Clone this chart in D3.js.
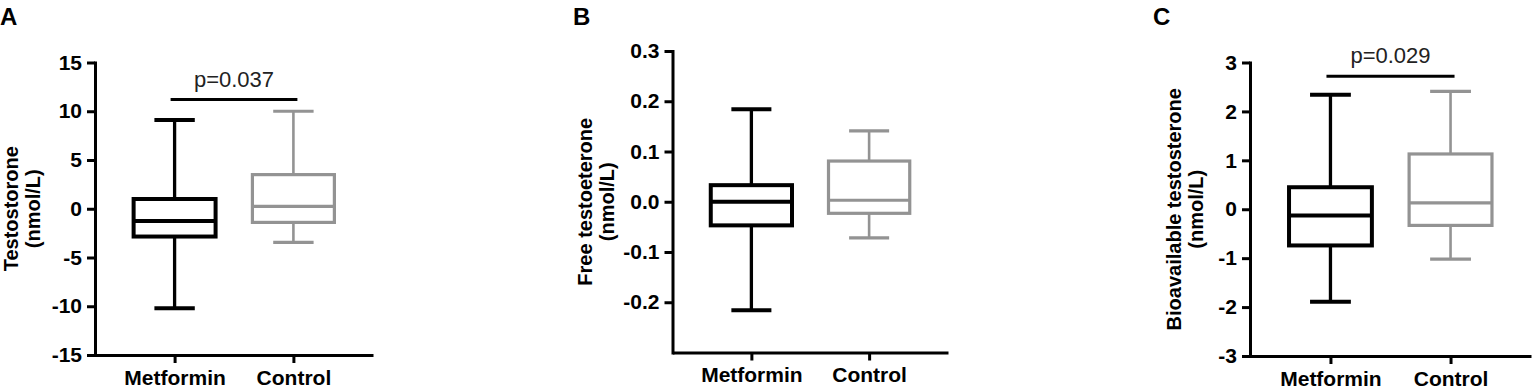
<!DOCTYPE html>
<html>
<head>
<meta charset="utf-8">
<script src="https://cdnjs.cloudflare.com/ajax/libs/d3/7.8.5/d3.min.js"></script>
<style>
  body { margin: 0; background: #fff; }
  text { font-family: "Liberation Sans", Arial, sans-serif; }
</style>
</head>
<body>
<script>
// groups on the x axis
var groups = ["Metformin", "Control"];
var panelLetters = ["A", "B", "C"];
var yTitles = [
    ["Testostorone", "(nmol/L)"],
    ["Free testoeterone", "(nmol/L)"],
    ["Bioavailable testosterone", "(nmol/L)"]
];

// box summaries per group: [min, q1, median, q3, max]
var testosteroneStats = [[-10.2, -2.85, -1.25, 1.0, 9.1], [-3.45, -1.4, 0.25, 3.5, 10.0]];
var freeTStats = [[-0.216, -0.047, 0.0, 0.033, 0.184], [-0.072, -0.023, 0.003, 0.081, 0.141]];
var bioTStats = [[-1.89, -0.74, -0.13, 0.45, 2.34], [-1.02, -0.33, 0.13, 1.13, 2.41]];

// y domains and tick labels
var testosteroneDomain = [-15, 15];
var testosteroneTicks = [-15, -10, -5, 0, 5, 10, 15];
var freeTDomain = [-0.3, 0.3];
var freeTTicks = [-0.2, -0.1, 0.0, 0.1, 0.2, 0.3];
var bioTDomain = [-3, 3];
var bioTTicks = [-3, -2, -1, 0, 1, 2, 3];

// significance brackets
var pLabels = ["p=0.037", null, "p=0.029"];
var pLevels = [11.2, null, 2.72];

var w = 1535, h = 390;
var svg = d3.select("body").append("svg")
    .attr("width", w)
    .attr("height", h);

var gray = "#939393";
var colors = ["#000", gray];

// pixel layout of each panel
var panels = [
    {stats: testosteroneStats, domain: testosteroneDomain, ticks: testosteroneTicks, fmt: function(d){ return String(d); },
     left: 95, right: 373, top: 62.5, bottom: 355, letterX: 0, titleX: [18, 40]},
    {stats: freeTStats, domain: freeTDomain, ticks: freeTTicks, fmt: function(d){ return d.toFixed(1); },
     left: 672.5, right: 948, top: 51, bottom: 352.5, letterX: 573, titleX: [592, 614]},
    {stats: bioTStats, domain: bioTDomain, ticks: bioTTicks, fmt: function(d){ return String(d); },
     left: 1250, right: 1531, top: 62.5, bottom: 356, letterX: 1153, titleX: [1181, 1203]}
];

panels.forEach(function(p, k){
    var g = svg.append("g");

    var yScale = d3.scaleLinear()
        .domain(p.domain)
        .range([p.bottom, p.top]);

    var xScale = d3.scalePoint()
        .domain(groups)
        .range([p.left, p.right])
        .padding(0.67);

    var step = xScale.step();
    var boxW = step * 0.69;
    var capW = step * 0.34;

    var yAxis = d3.axisLeft(yScale)
        .tickValues(p.ticks)
        .tickFormat(p.fmt)
        .tickSize(8)
        .tickSizeOuter(0)
        .tickPadding(5);

    var xAxis = d3.axisBottom(xScale)
        .tickSize(8)
        .tickSizeOuter(0)
        .tickPadding(7);

    var ya = g.append("g")
        .attr("transform", "translate(" + p.left + ",0)")
        .call(yAxis);

    var xa = g.append("g")
        .attr("transform", "translate(0," + p.bottom + ")")
        .call(xAxis);

    [ya, xa].forEach(function(a){
        a.selectAll("path, line").attr("stroke", "#000").attr("stroke-width", 3);
        a.selectAll("text")
            .attr("fill", "#000")
            .style("font-size", "21px")
            .style("font-weight", "bold");
    });
    ya.select(".domain").attr("stroke-linecap", "square");
    xa.selectAll("text").attr("dy", "0.71em");

    // boxes
    var boxes = g.selectAll("g.box")
        .data(p.stats)
        .enter()
        .append("g")
        .attr("class", "box");

    boxes.each(function(d, i){
        var b = d3.select(this);
        var cx = xScale(groups[i]);
        var col = colors[i];
        var sw = i === 0 ? 4 : 3.2;
        var ww = i === 0 ? 3.3 : 2.6;

        // whiskers
        b.append("line")
            .attr("x1", cx).attr("x2", cx)
            .attr("y1", yScale(d[0])).attr("y2", yScale(d[1]))
            .attr("stroke", col).attr("stroke-width", ww);
        b.append("line")
            .attr("x1", cx).attr("x2", cx)
            .attr("y1", yScale(d[3])).attr("y2", yScale(d[4]))
            .attr("stroke", col).attr("stroke-width", ww);
        [d[0], d[4]].forEach(function(v){
            b.append("line")
                .attr("x1", cx - capW / 2).attr("x2", cx + capW / 2)
                .attr("y1", yScale(v)).attr("y2", yScale(v))
                .attr("stroke", col).attr("stroke-width", sw);
        });
        // box
        b.append("rect")
            .attr("x", cx - boxW / 2)
            .attr("width", boxW)
            .attr("y", yScale(d[3]))
            .attr("height", yScale(d[1]) - yScale(d[3]))
            .attr("fill", "#fff")
            .attr("stroke", col)
            .attr("stroke-width", sw);
        // median
        b.append("line")
            .attr("x1", cx - boxW / 2).attr("x2", cx + boxW / 2)
            .attr("y1", yScale(d[2])).attr("y2", yScale(d[2]))
            .attr("stroke", col).attr("stroke-width", sw);
    });

    // significance bracket
    if (pLabels[k]) {
        var by = yScale(pLevels[k]);
        var x1 = xScale(groups[0]) - 4, x2 = xScale(groups[1]) + 4;
        g.append("line")
            .attr("x1", x1).attr("x2", x2)
            .attr("y1", by).attr("y2", by)
            .attr("stroke", "#000").attr("stroke-width", 3);
        g.append("text")
            .attr("x", (x1 + x2) / 2)
            .attr("y", by - 13)
            .attr("text-anchor", "middle")
            .attr("fill", "#222")
            .style("font-size", "22px")
            .text(pLabels[k]);
    }

    // y title, two lines
    var cy = (p.top + p.bottom) / 2;
    yTitles[k].forEach(function(t, j){
        g.append("text")
            .attr("transform", "translate(" + p.titleX[j] + "," + cy + ") rotate(-90)")
            .attr("text-anchor", "middle")
            .attr("fill", "#000")
            .style("font-size", "20px")
            .style("font-weight", "bold")
            .text(t);
    });

    // panel letter
    g.append("text")
        .attr("x", p.letterX)
        .attr("y", 25)
        .attr("fill", "#000")
        .style("font-size", "24px")
        .style("font-weight", "bold")
        .text(panelLetters[k]);
});
</script>
</body>
</html>
